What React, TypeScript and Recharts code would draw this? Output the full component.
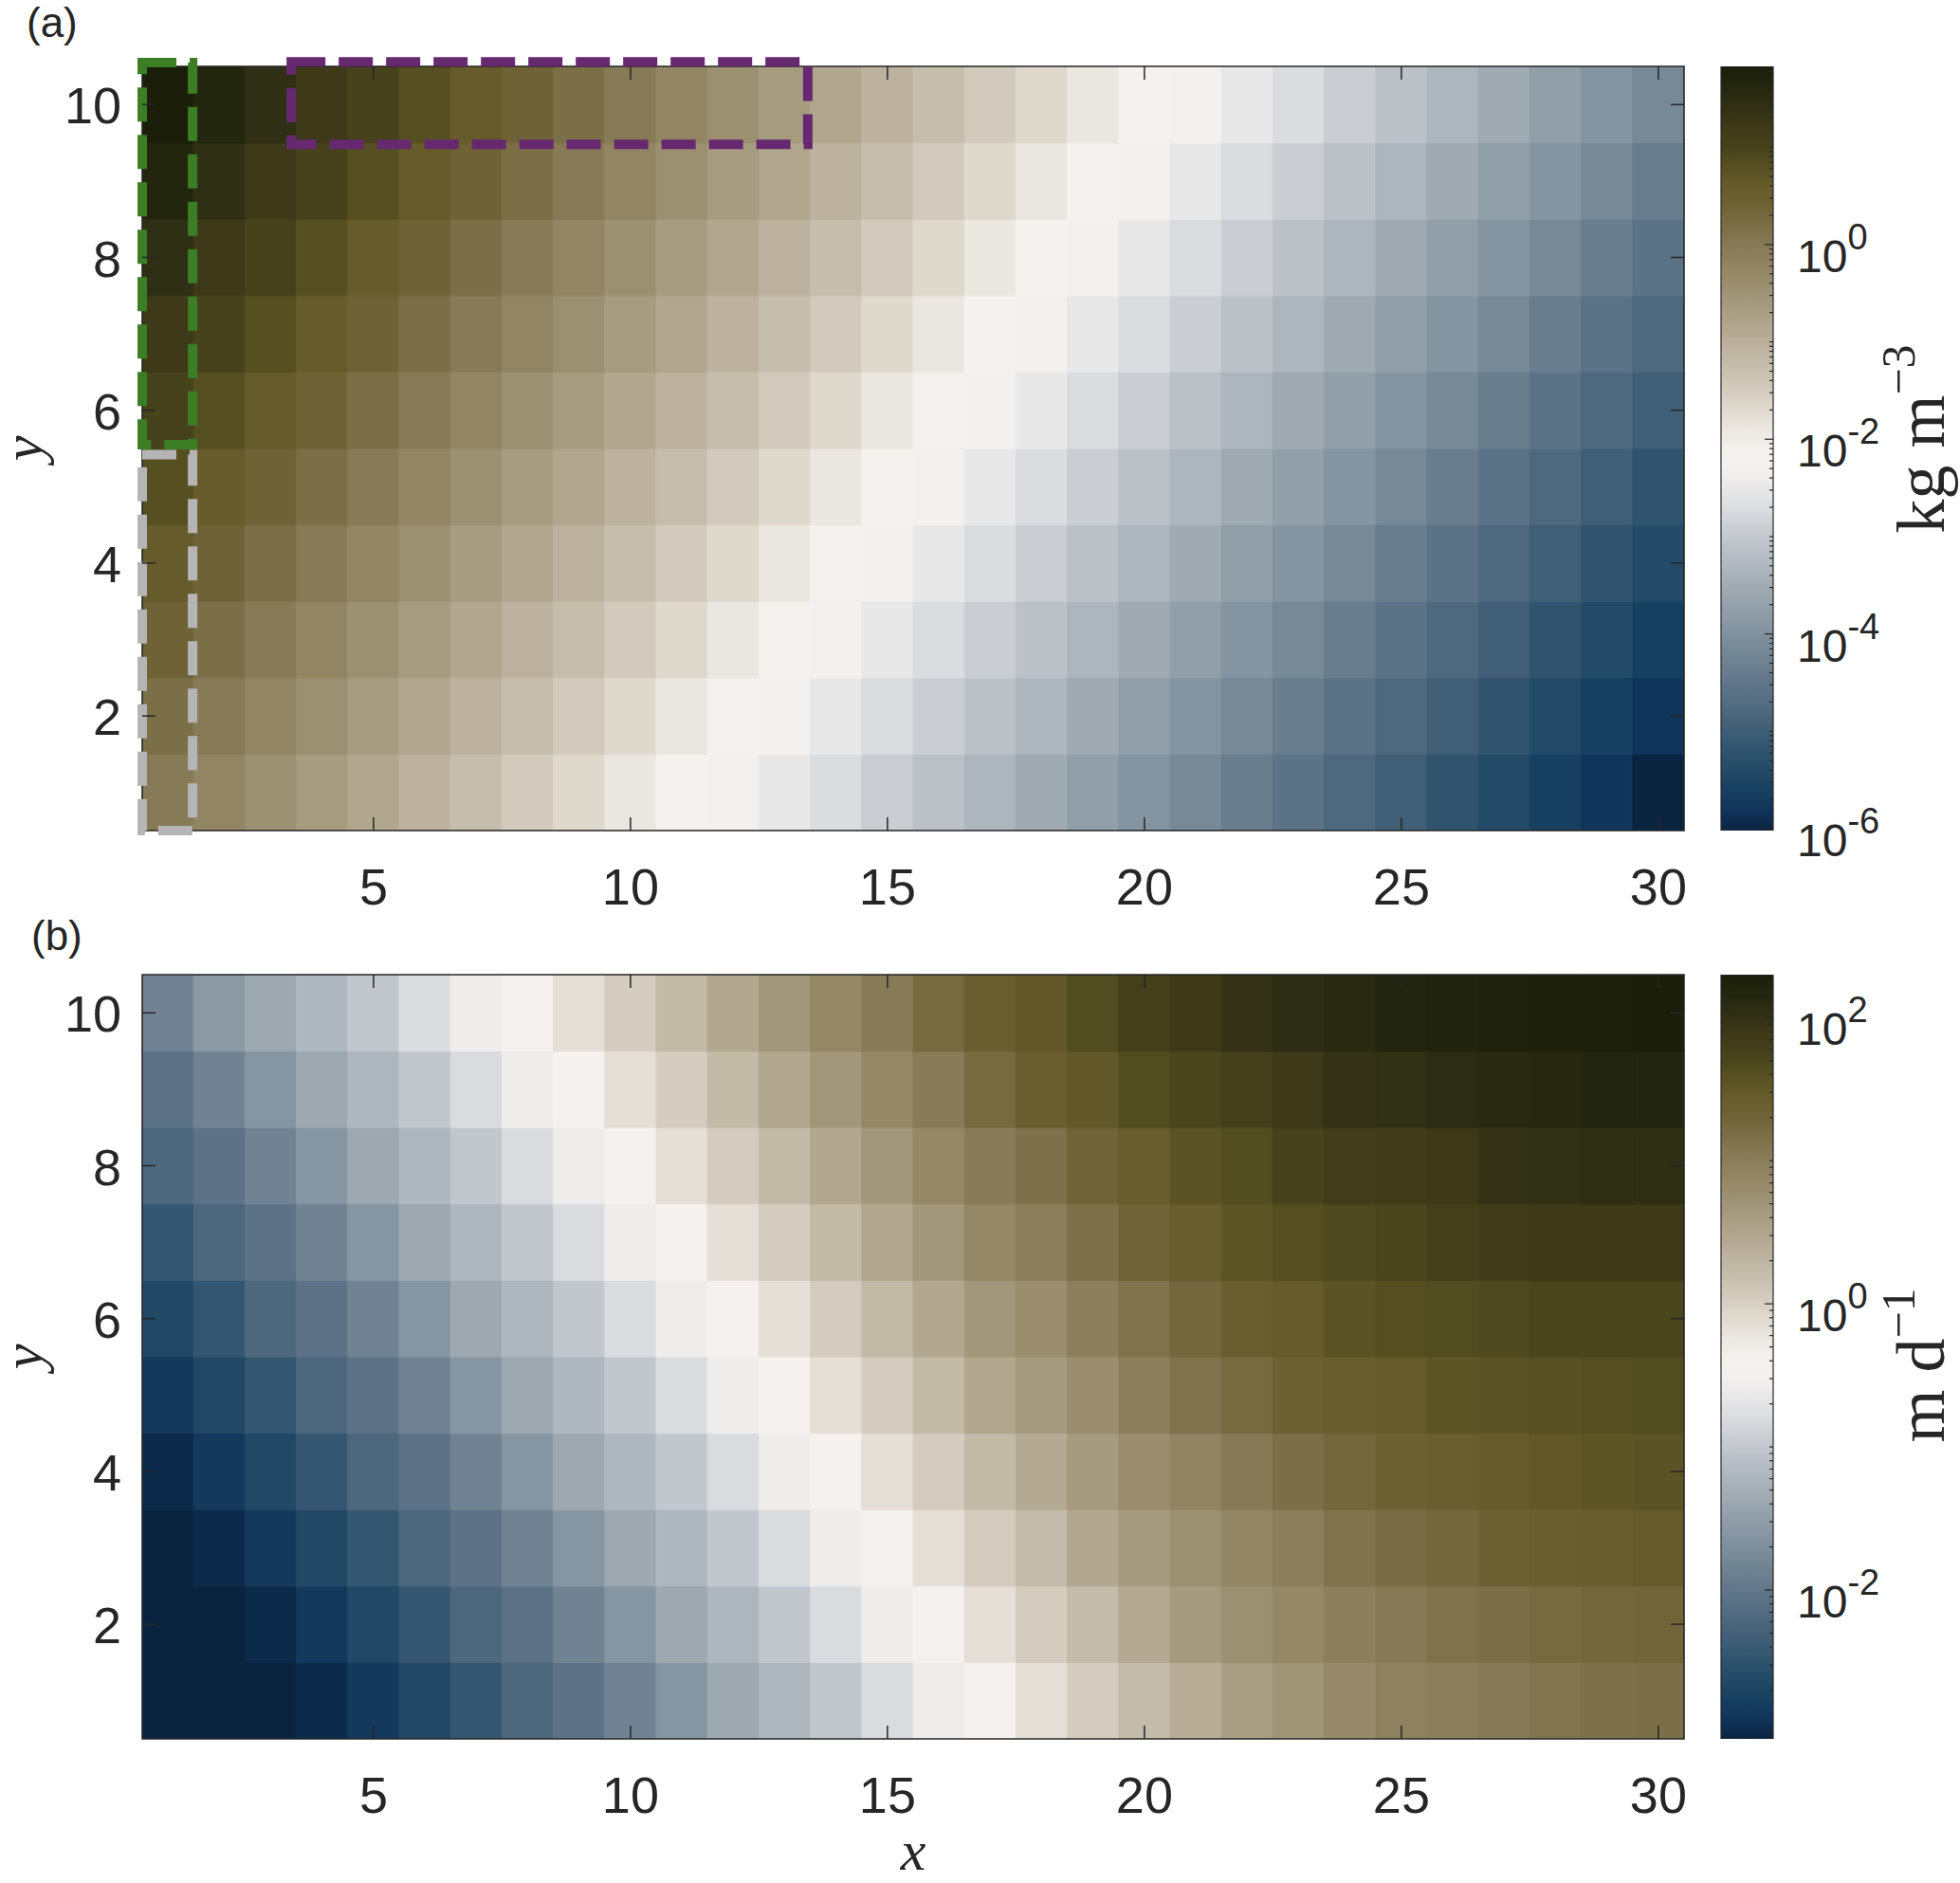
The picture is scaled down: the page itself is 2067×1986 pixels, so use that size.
import { ComposedChart, XAxis, YAxis, ReferenceArea, Scatter, Bar } from "recharts";

// cell centres and axis ticks
const X_CELLS = [1, 2, 3, 4, 5, 6, 7, 8, 9, 10, 11, 12, 13, 14, 15, 16, 17, 18, 19, 20, 21, 22, 23, 24, 25, 26, 27, 28, 29, 30];
const Y_CELLS = [1, 2, 3, 4, 5, 6, 7, 8, 9, 10];
const X_TICKS = [5, 10, 15, 20, 25, 30];
const Y_TICKS = [2, 4, 6, 8, 10];

// (a) log10 of concentration (kg m^-3), one array per row y
const CONC_Y10 = [1.83, 1.62, 1.42, 1.21, 1.0, 0.8, 0.59, 0.38, 0.18, -0.03, -0.24, -0.44, -0.65, -0.86, -1.06, -1.27, -1.48, -1.68, -1.89, -2.1, -2.3, -2.51, -2.72, -2.92, -3.13, -3.34, -3.54, -3.75, -3.96, -4.16];
const CONC_Y9 = [1.62, 1.42, 1.21, 1.0, 0.8, 0.59, 0.38, 0.18, -0.03, -0.24, -0.44, -0.65, -0.86, -1.06, -1.27, -1.48, -1.68, -1.89, -2.1, -2.3, -2.51, -2.72, -2.92, -3.13, -3.34, -3.54, -3.75, -3.96, -4.16, -4.37];
const CONC_Y8 = [1.42, 1.21, 1.0, 0.8, 0.59, 0.38, 0.18, -0.03, -0.24, -0.44, -0.65, -0.86, -1.06, -1.27, -1.48, -1.68, -1.89, -2.1, -2.3, -2.51, -2.72, -2.92, -3.13, -3.34, -3.54, -3.75, -3.96, -4.16, -4.37, -4.58];
const CONC_Y7 = [1.21, 1.0, 0.8, 0.59, 0.38, 0.18, -0.03, -0.24, -0.44, -0.65, -0.86, -1.06, -1.27, -1.48, -1.68, -1.89, -2.1, -2.3, -2.51, -2.72, -2.92, -3.13, -3.34, -3.54, -3.75, -3.96, -4.16, -4.37, -4.58, -4.78];
const CONC_Y6 = [1.0, 0.8, 0.59, 0.38, 0.18, -0.03, -0.24, -0.44, -0.65, -0.86, -1.06, -1.27, -1.48, -1.68, -1.89, -2.1, -2.3, -2.51, -2.72, -2.92, -3.13, -3.34, -3.54, -3.75, -3.96, -4.16, -4.37, -4.58, -4.78, -4.99];
const CONC_Y5 = [0.8, 0.59, 0.38, 0.18, -0.03, -0.24, -0.44, -0.65, -0.86, -1.06, -1.27, -1.48, -1.68, -1.89, -2.1, -2.3, -2.51, -2.72, -2.92, -3.13, -3.34, -3.54, -3.75, -3.96, -4.16, -4.37, -4.58, -4.78, -4.99, -5.2];
const CONC_Y4 = [0.59, 0.38, 0.18, -0.03, -0.24, -0.44, -0.65, -0.86, -1.06, -1.27, -1.48, -1.68, -1.89, -2.1, -2.3, -2.51, -2.72, -2.92, -3.13, -3.34, -3.54, -3.75, -3.96, -4.16, -4.37, -4.58, -4.78, -4.99, -5.2, -5.4];
const CONC_Y3 = [0.38, 0.18, -0.03, -0.24, -0.44, -0.65, -0.86, -1.06, -1.27, -1.48, -1.68, -1.89, -2.1, -2.3, -2.51, -2.72, -2.92, -3.13, -3.34, -3.54, -3.75, -3.96, -4.16, -4.37, -4.58, -4.78, -4.99, -5.2, -5.4, -5.61];
const CONC_Y2 = [0.18, -0.03, -0.24, -0.44, -0.65, -0.86, -1.06, -1.27, -1.48, -1.68, -1.89, -2.1, -2.3, -2.51, -2.72, -2.92, -3.13, -3.34, -3.54, -3.75, -3.96, -4.16, -4.37, -4.58, -4.78, -4.99, -5.2, -5.4, -5.61, -5.81];
const CONC_Y1 = [-0.03, -0.24, -0.44, -0.65, -0.86, -1.06, -1.27, -1.48, -1.68, -1.89, -2.1, -2.3, -2.51, -2.72, -2.92, -3.13, -3.34, -3.54, -3.75, -3.96, -4.16, -4.37, -4.58, -4.78, -4.99, -5.2, -5.4, -5.61, -5.81, -6.02];
const CONC_LIMITS = [-6.02, 1.83];
const CONC_CBAR_LABELS = [0, -2, -4, -6];

// (b) log10 of rate (m d^-1)
const RATE_Y10 = [-1.84, -1.57, -1.38, -1.2, -1.01, -0.79, -0.58, -0.37, -0.16, 0.03, 0.24, 0.46, 0.67, 0.86, 1.02, 1.23, 1.39, 1.5, 1.63, 1.79, 1.87, 1.98, 2.06, 2.11, 2.17, 2.22, 2.25, 2.27, 2.29, 2.3];
const RATE_Y9 = [-2.05, -1.84, -1.62, -1.38, -1.2, -1.01, -0.8, -0.58, -0.37, -0.16, 0.03, 0.24, 0.46, 0.67, 0.86, 1.02, 1.23, 1.39, 1.5, 1.63, 1.71, 1.79, 1.9, 1.98, 2.01, 2.06, 2.11, 2.14, 2.17, 2.17];
const RATE_Y8 = [-2.21, -2.05, -1.84, -1.62, -1.38, -1.2, -1.01, -0.8, -0.58, -0.37, -0.16, 0.03, 0.24, 0.46, 0.67, 0.86, 1.02, 1.15, 1.31, 1.42, 1.55, 1.63, 1.74, 1.82, 1.85, 1.9, 1.98, 2.01, 2.03, 2.03];
const RATE_Y7 = [-2.45, -2.21, -2.05, -1.84, -1.62, -1.38, -1.2, -1.01, -0.8, -0.58, -0.37, -0.16, 0.03, 0.24, 0.46, 0.67, 0.86, 0.99, 1.15, 1.31, 1.42, 1.53, 1.61, 1.66, 1.71, 1.79, 1.85, 1.87, 1.9, 1.9];
const RATE_Y6 = [-2.64, -2.45, -2.21, -2.05, -1.84, -1.62, -1.38, -1.2, -1.01, -0.8, -0.58, -0.37, -0.16, 0.03, 0.24, 0.46, 0.67, 0.78, 0.97, 1.13, 1.26, 1.39, 1.47, 1.55, 1.61, 1.63, 1.66, 1.71, 1.71, 1.71];
const RATE_Y5 = [-2.83, -2.64, -2.45, -2.21, -2.05, -1.84, -1.62, -1.38, -1.2, -1.01, -0.8, -0.58, -0.37, -0.16, 0.03, 0.24, 0.46, 0.64, 0.78, 0.97, 1.13, 1.23, 1.34, 1.42, 1.47, 1.53, 1.55, 1.58, 1.61, 1.63];
const RATE_Y4 = [-2.99, -2.83, -2.64, -2.45, -2.21, -2.05, -1.84, -1.62, -1.38, -1.2, -1.01, -0.8, -0.58, -0.37, -0.16, 0.03, 0.24, 0.43, 0.62, 0.78, 0.91, 1.05, 1.18, 1.26, 1.34, 1.39, 1.45, 1.5, 1.53, 1.55];
const RATE_Y3 = [-3.04, -2.99, -2.83, -2.64, -2.45, -2.21, -2.05, -1.84, -1.62, -1.38, -1.2, -1.01, -0.8, -0.58, -0.37, -0.16, 0.03, 0.22, 0.46, 0.62, 0.75, 0.88, 0.99, 1.13, 1.21, 1.26, 1.34, 1.39, 1.42, 1.45];
const RATE_Y2 = [-3.04, -3.04, -2.99, -2.83, -2.64, -2.45, -2.21, -2.05, -1.84, -1.62, -1.38, -1.2, -1.01, -0.8, -0.58, -0.37, -0.16, 0.03, 0.22, 0.43, 0.62, 0.75, 0.86, 0.97, 1.05, 1.13, 1.18, 1.23, 1.26, 1.29];
const RATE_Y1 = [-3.04, -3.04, -3.04, -2.99, -2.83, -2.64, -2.45, -2.21, -2.05, -1.84, -1.62, -1.38, -1.2, -1.01, -0.8, -0.58, -0.37, -0.16, 0.03, 0.22, 0.4, 0.59, 0.7, 0.83, 0.94, 0.99, 1.05, 1.1, 1.15, 1.18];
const RATE_LIMITS = [-3.04, 2.3];
const RATE_CBAR_LABELS = [2, 0, -2];

const CONC_ROWS = [CONC_Y1, CONC_Y2, CONC_Y3, CONC_Y4, CONC_Y5, CONC_Y6, CONC_Y7, CONC_Y8, CONC_Y9, CONC_Y10];
const RATE_ROWS = [RATE_Y1, RATE_Y2, RATE_Y3, RATE_Y4, RATE_Y5, RATE_Y6, RATE_Y7, RATE_Y8, RATE_Y9, RATE_Y10];

const LOG_MULTS = [1, 2, 3, 4, 5, 6, 7, 8, 9];

// diverging blue-white-olive map, low -> high, evenly spaced
const CMAP = [
  "#0A2440", "#11345A", "#173F5F", "#234A66", "#31546E", "#405E76", "#4E697E", "#5C7286",
  "#697D8D", "#778996", "#8494A0", "#919FA9", "#A0AAB3", "#ADB5BD", "#BCC1C8", "#CACED3",
  "#DADCDF", "#E9E8E9", "#F3F1EF", "#F4F1EE", "#EAE6E0", "#DFD8CD", "#D2CBBD", "#C6BEAD",
  "#BCB29F", "#B1A78F", "#A69C80", "#9C9072", "#918563", "#877A57", "#7B6F48", "#6F6236",
  "#665B2A", "#564F22", "#46421C", "#3E3A19", "#2F2F15", "#23260F", "#1B1F0A",
];

const INK = "#262626";
const SANS = "'Liberation Sans', Arial, sans-serif";
const SERIF = "'Liberation Serif', 'Times New Roman', serif";
const PLOT_W = 1626;
const PLOT_H = 806;
const CELL_W = PLOT_W / X_CELLS.length;
const CELL_H = PLOT_H / Y_CELLS.length;
const PANEL_H = 990;
const TICK_LEN = 14;

const rgb = (h: string) => [1, 3, 5].map((i) => parseInt(h.slice(i, i + 2), 16));

function colorAt(v: number, lo: number, hi: number) {
  const t = Math.min(1, Math.max(0, (v - lo) / (hi - lo)));
  const c = t * (CMAP.length - 1);
  const i = Math.min(CMAP.length - 2, Math.floor(c));
  const f = c - i;
  const a = rgb(CMAP[i]);
  const b = rgb(CMAP[i + 1]);
  const m = a.map((ai, k) => Math.round(ai + (b[k] - ai) * f));
  return `rgb(${m[0]},${m[1]},${m[2]})`;
}

const XTick = ({ x, y, payload }: any) => (
  <g>
    <line x1={x} x2={x} y1={y} y2={y - TICK_LEN} stroke={INK} strokeWidth={1.5} />
    <line x1={x} x2={x} y1={y - PLOT_H} y2={y - PLOT_H + TICK_LEN} stroke={INK} strokeWidth={1.5} />
    <text x={x} y={y + 78} textAnchor="middle" fontSize={54} fontFamily={SANS} fill={INK}>
      {payload.value}
    </text>
  </g>
);

const YTick = ({ x, y, payload }: any) => (
  <g>
    <line x1={x} x2={x + TICK_LEN} y1={y} y2={y} stroke={INK} strokeWidth={1.5} />
    <line x1={x + PLOT_W} x2={x + PLOT_W - TICK_LEN} y1={y} y2={y} stroke={INK} strokeWidth={1.5} />
    <text x={x - 22} y={y + 20} textAnchor="end" fontSize={54} fontFamily={SANS} fill={INK}>
      {payload.value}
    </text>
  </g>
);

const CbarTick = ({ x, y, payload, labels }: any) => {
  const v = payload.value;
  const n = Math.round(v);
  const decade = Math.abs(v - n) < 1e-6;
  const labelled = decade && labels.includes(n);
  return (
    <g>
      <line x1={x} x2={x - (labelled ? 9 : 4)} y1={y} y2={y} stroke={INK} strokeWidth={1.2} />
      {labelled && (
        <text x={x + 25} y={y + 29} fontSize={48} fontFamily={SANS} fill={INK}>
          10
          <tspan dy={-24} fontSize={38}>
            {n}
          </tspan>
        </text>
      )}
    </g>
  );
};

function Heatmap({ rows, limits, top, children }: any) {
  const [lo, hi] = limits;
  const cells = Y_CELLS.flatMap((yv, yi) => X_CELLS.map((xv, xi) => ({ x: xv, y: yv, v: rows[yi][xi] })));
  const cellShape = (p: any) => {
    const col = colorAt(p.payload.v, lo, hi);
    return (
      <rect
        x={p.cx - CELL_W / 2}
        y={p.cy - CELL_H / 2}
        width={CELL_W}
        height={CELL_H}
        fill={col}
        stroke={col}
        strokeWidth={1}
      />
    );
  };
  return (
    <div style={{ position: "absolute", left: 0, top, width: 1800, height: PANEL_H }}>
      <ComposedChart width={1800} height={PANEL_H} margin={{ top: 70, right: 24, bottom: 113, left: 149 }}>
        <Scatter data={cells} dataKey="y" shape={cellShape} isAnimationActive={false} />
        <ReferenceArea x1={0.5} x2={30.5} y1={0.5} y2={10.5} fill="none" fillOpacity={0} stroke={INK} strokeWidth={1.6} ifOverflow="visible" zIndex={1500} />
        {children}
        <XAxis
          type="number"
          dataKey="x"
          domain={[0.5, 30.5]}
          allowDataOverflow
          ticks={X_TICKS}
          interval={0}
          height={1}
          axisLine={false}
          tickLine={false}
          tickSize={0}
          tickMargin={0}
          zIndex={1600}
          tick={(p: any) => <XTick {...p} />}
        />
        <YAxis
          type="number"
          dataKey="y"
          domain={[0.5, 10.5]}
          allowDataOverflow
          ticks={Y_TICKS}
          interval={0}
          width={1}
          axisLine={false}
          tickLine={false}
          tickSize={0}
          tickMargin={0}
          zIndex={1600}
          tick={(p: any) => <YTick {...p} />}
        />
      </ComposedChart>
    </div>
  );
}

function Colorbar({ limits, labels, top, id }: any) {
  const [lo, hi] = limits;
  const ticks: number[] = [];
  for (let n = Math.floor(lo); n <= Math.ceil(hi); n++) {
    for (const m of LOG_MULTS) {
      const v = n + Math.log10(m);
      if (v >= lo - 1e-9 && v <= hi + 1e-9) ticks.push(v);
    }
  }
  const bar = [{ k: "cbar", range: [lo, hi] }];
  return (
    <div style={{ position: "absolute", left: 1700, top, width: 367, height: PANEL_H }}>
      <ComposedChart
        width={367}
        height={PANEL_H}
        data={bar}
        barCategoryGap={0}
        margin={{ top: 70, right: 196, bottom: 114, left: 115 }}
      >
        <defs>
          <linearGradient id={id} x1="0" y1="1" x2="0" y2="0">
            {CMAP.map((c, i) => (
              <stop key={i} offset={i / (CMAP.length - 1)} stopColor={c} />
            ))}
          </linearGradient>
        </defs>
        <XAxis type="category" dataKey="k" hide />
        <Bar dataKey="range" fill={`url(#${id})`} stroke={INK} strokeWidth={1.2} isAnimationActive={false} />
        <YAxis
          type="number"
          orientation="right"
          domain={[lo, hi]}
          allowDataOverflow
          ticks={ticks}
          interval={0}
          width={1}
          axisLine={false}
          tickLine={false}
          tickSize={0}
          tickMargin={0}
          zIndex={1600}
          tick={(p: any) => <CbarTick {...p} labels={labels} />}
        />
      </ComposedChart>
    </div>
  );
}

export default function App() {
  return (
    <div style={{ position: "absolute", left: 0, top: 0, width: 2067, height: 1986, background: "#fff" }}>
      <Heatmap rows={CONC_ROWS} limits={CONC_LIMITS} top={0}>
        <ReferenceArea x1={0.5} x2={1.48} y1={5.55} y2={10.55} fill="none" fillOpacity={0} stroke="#3C7E25" strokeWidth={10} strokeDasharray="36 14" ifOverflow="visible" zIndex={1700} />
        <ReferenceArea x1={0.5} x2={1.48} y1={0.5} y2={5.42} fill="none" fillOpacity={0} stroke="#B5B5B5" strokeWidth={10} strokeDasharray="36 14" ifOverflow="visible" zIndex={1700} />
        <ReferenceArea x1={3.4} x2={13.45} y1={9.48} y2={10.56} fill="none" fillOpacity={0} stroke="#66296F" strokeWidth={10} strokeDasharray="36 14" ifOverflow="visible" zIndex={1700} />
      </Heatmap>
      <Colorbar limits={CONC_LIMITS} labels={CONC_CBAR_LABELS} top={0} id="cmapA" />
      <Heatmap rows={RATE_ROWS} limits={RATE_LIMITS} top={958} />
      <Colorbar limits={RATE_LIMITS} labels={RATE_CBAR_LABELS} top={958} id="cmapB" />

      <svg width={2067} height={1986} style={{ position: "absolute", left: 0, top: 0, pointerEvents: "none" }}>
        <text x={28} y={39} fontSize={44} fontFamily={SANS} fill={INK}>(a)</text>
        <text x={33} y={1002} fontSize={44} fontFamily={SANS} fill={INK}>(b)</text>
        <text transform="translate(44,473) rotate(-90)" textAnchor="middle" fontSize={60} fontStyle="italic" fontFamily={SERIF} fill={INK}>y</text>
        <text transform="translate(44,1431) rotate(-90)" textAnchor="middle" fontSize={60} fontStyle="italic" fontFamily={SERIF} fill={INK}>y</text>
        <text x={963} y={1972} textAnchor="middle" fontSize={60} fontStyle="italic" fontFamily={SERIF} fill={INK}>x</text>
        <text transform="translate(2050,463) rotate(-90)" textAnchor="middle" fontSize={72} fontFamily={SERIF} fill={INK}>
          kg m<tspan dy={-31} fontSize={50}>−3</tspan>
        </text>
        <text transform="translate(2050,1440) rotate(-90)" textAnchor="middle" fontSize={72} fontFamily={SERIF} fill={INK}>
          m d<tspan dy={-31} fontSize={50}>−1</tspan>
        </text>
      </svg>
    </div>
  );
}
